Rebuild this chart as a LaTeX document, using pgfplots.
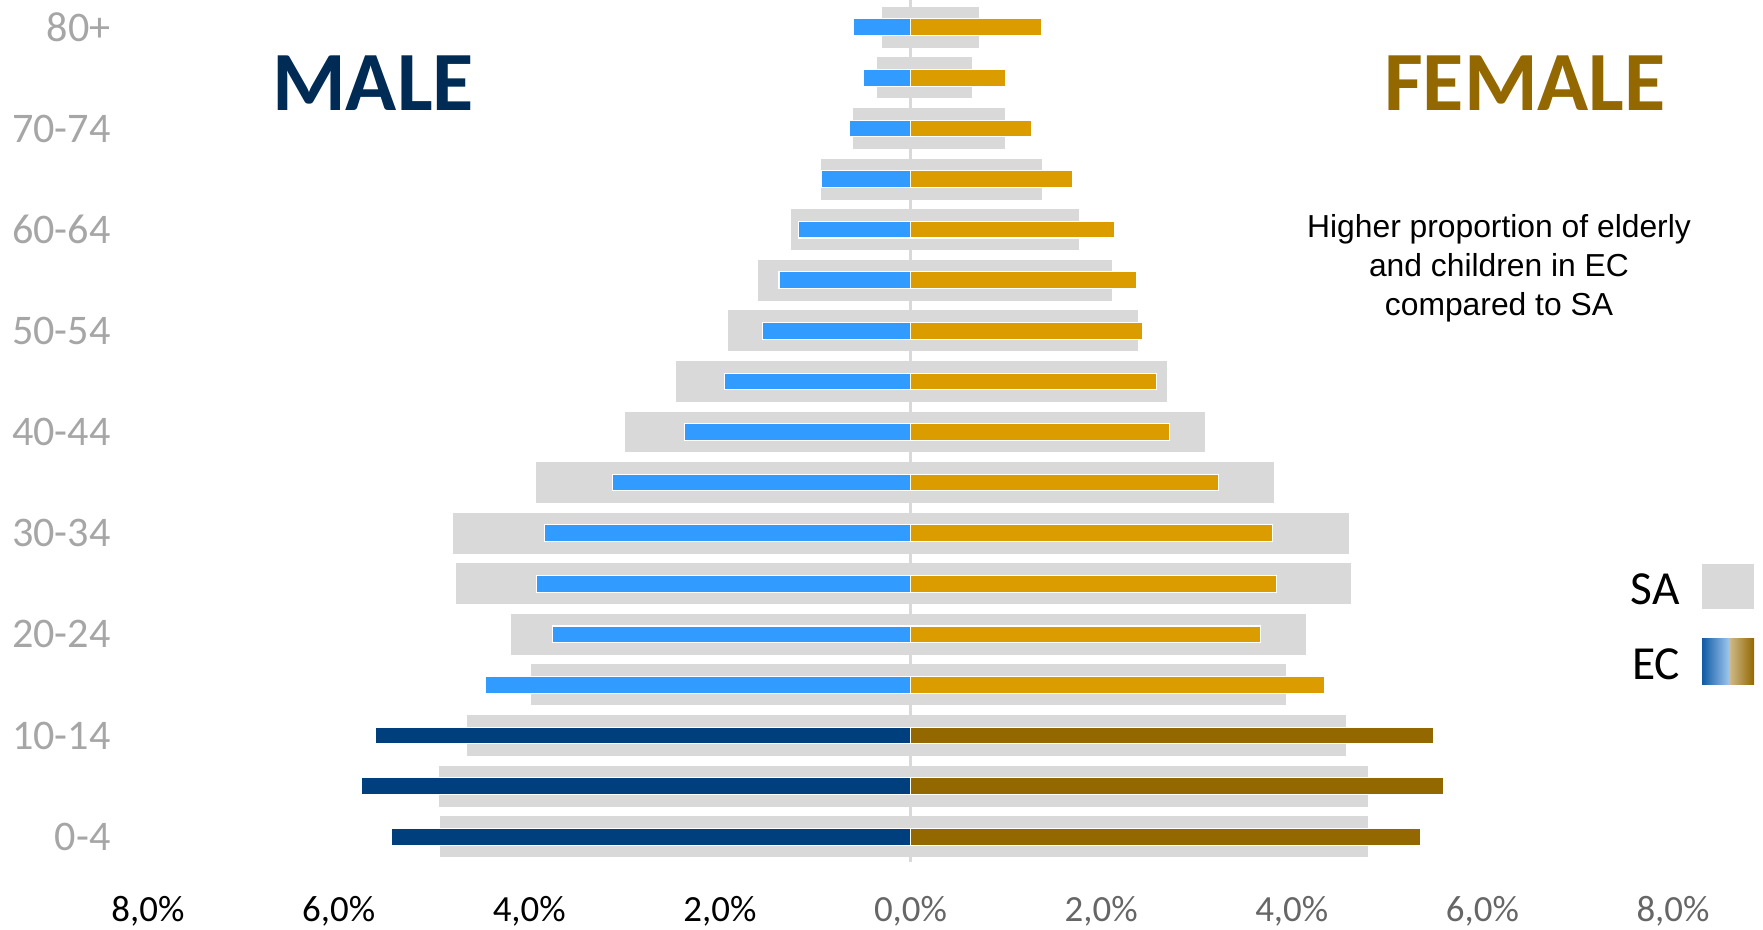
\documentclass[border=0pt]{standalone}
\usepackage{pgfplots}
\usepackage{pgfplotstable}
\usepackage{fontspec}
\pgfplotsset{compat=1.18}
\setmainfont{Carlito}
\newfontfamily\arial{Liberation Sans}

\definecolor{sagray}{HTML}{D9D9D9}
\definecolor{ecblue}{HTML}{319BFF}
\definecolor{ecorange}{HTML}{DB9C00}
\definecolor{ecdarkblue}{HTML}{003F7E}
\definecolor{ecbrown}{HTML}{946800}
\definecolor{malenavy}{HTML}{002B55}
\definecolor{labelgray}{HTML}{A6A6A6}
\definecolor{tickgray}{HTML}{666666}

% age group index: 0 = 0-4 ... 16 = 80+ ; values in %
\pgfplotstableread{
age  sam   saf   ecm   ecf
0    4.94  4.81  5.45  5.35
1    4.95  4.81  5.76  5.59
2    4.66  4.57  5.61  5.49
3    3.99  3.94  4.46  4.34
4    4.20  4.15  3.76  3.67
5    4.77  4.63  3.92  3.84
6    4.81  4.61  3.84  3.80
7    3.94  3.82  3.13  3.23
8    3.00  3.09  2.37  2.72
9    2.47  2.70  1.95  2.58
10   1.92  2.39  1.55  2.43
11   1.61  2.12  1.38  2.37
12   1.26  1.77  1.18  2.14
13   0.94  1.39  0.93  1.70
14   0.61  1.00  0.64  1.27
15   0.36  0.65  0.49  1.00
16   0.30  0.72  0.60  1.37
}\pyramid

\begin{document}
\begin{tikzpicture}
\useasboundingbox (-14.8mm,-6.8mm) rectangle (161.5mm,86.2mm);
\begin{axis}[
    scale only axis,
    width=152.5mm, height=86mm,
    xmin=-8, xmax=8,
    ymin=-0.5, ymax=16.5,
    axis line style={draw=none},
    major tick length=0pt,
    xtick={-8,-6,-4,-2,0,2,4,6,8},
    xticklabels={{\textcolor{black}{8,0\%}},{\textcolor{black}{6,0\%}},{\textcolor{black}{4,0\%}},{\textcolor{black}{2,0\%}},{0,0\%},{2,0\%},{4,0\%},{6,0\%},{8,0\%}},
    xticklabel style={text=tickgray, font=\fontsize{10.5}{12}\selectfont, yshift=-2.2mm},
    ytick={0,2,4,6,8,10,12,14,16},
    yticklabels={0-4,10-14,20-24,30-34,40-44,50-54,60-64,70-74,80+},
    yticklabel style={text=labelgray, font=\fontsize{12}{14}\selectfont, xshift=-2.5mm},
    clip=false,
]
% SA (whole country), wide grey bars
\addplot[xbar, bar shift=0pt, bar width=0.83, fill=sagray, draw=white, line width=0.3pt]
    table[y=age, x expr=-\thisrow{sam}] {\pyramid};
\addplot[xbar, bar shift=0pt, bar width=0.83, fill=sagray, draw=white, line width=0.3pt]
    table[y=age, x=saf] {\pyramid};

\draw[sagray, line width=0.6pt] (axis cs:0,-0.5) -- (axis cs:0,16.6);

% EC, narrow bars; children darker
\addplot[xbar, bar shift=0pt, bar width=0.33, fill=ecblue, draw=white, line width=0.3pt,
    restrict y to domain=3:16]
    table[y=age, x expr=-\thisrow{ecm}] {\pyramid};
\addplot[xbar, bar shift=0pt, bar width=0.33, fill=ecorange, draw=white, line width=0.3pt,
    restrict y to domain=3:16]
    table[y=age, x=ecf] {\pyramid};
\addplot[xbar, bar shift=0pt, bar width=0.33, fill=ecdarkblue, draw=white, line width=0.3pt,
    restrict y to domain=0:2]
    table[y=age, x expr=-\thisrow{ecm}] {\pyramid};
\addplot[xbar, bar shift=0pt, bar width=0.33, fill=ecbrown, draw=white, line width=0.3pt,
    restrict y to domain=0:2]
    table[y=age, x=ecf] {\pyramid};
\end{axis}

\node[inner sep=0, text=malenavy, font=\bfseries\fontsize{24}{28}\selectfont] at (22.5mm,77.9mm) {MALE};
\node[inner sep=0, text=ecbrown, font=\bfseries\fontsize{24}{28}\selectfont] at (137.7mm,77.9mm) {FEMALE};

\node[inner sep=0, align=center, font=\arial\fontsize{9.05}{11.1}\selectfont] at (135.1mm,59.4mm)
    {Higher proportion of elderly\\and children in EC\\compared to SA};

% legend
\node[inner sep=0, font=\fontsize{13.5}{16}\selectfont] at (150.7mm,27.3mm) {SA};
\node[inner sep=0, font=\fontsize{13.5}{16}\selectfont] at (150.8mm,19.8mm) {EC};
\fill[sagray] (155.4mm,25.3mm) rectangle (160.6mm,29.8mm);
\shade[left color=ecdarkblue!70!ecblue, right color=ecblue!45!white!85!gray] (155.4mm,17.7mm) rectangle (158.1mm,22.3mm);
\shade[left color=ecbrown!45!white, right color=ecbrown] (158.1mm,17.7mm) rectangle (160.6mm,22.3mm);
\end{tikzpicture}
\end{document}
